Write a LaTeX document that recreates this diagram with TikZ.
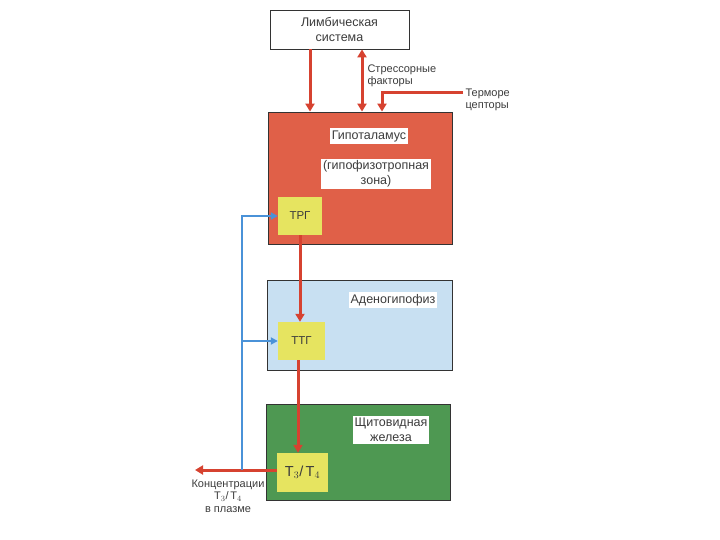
\documentclass[tikz,border=0pt]{standalone}
\usepackage{fontspec}
\setmainfont{Liberation Sans}
\definecolor{hypored}{RGB}{224,96,72}
\definecolor{adenoblue}{RGB}{200,224,242}
\definecolor{thyrogreen}{RGB}{78,152,82}
\definecolor{hormyellow}{RGB}{230,228,96}
\definecolor{arrred}{RGB}{214,66,48}
\definecolor{arrblue}{RGB}{74,146,216}
\definecolor{inkgray}{RGB}{60,60,60}
\usetikzlibrary{arrows.meta, positioning}
\tikzset{
    organ/.style={
           rectangle,
           draw=black!80, thick,
           inner sep=0pt,
           },
    hormone/.style={
           rectangle,
           fill=hormyellow,
           inner sep=0pt,
           text=inkgray,
           font=\fontsize{11.5}{13}\selectfont,
           },
    tag/.style={
           fill=white,
           inner sep=2pt,
           align=center,
           text=inkgray,
           font=\fontsize{12.5}{15}\selectfont,
           },
    note/.style={
           align=left,
           text=inkgray,
           font=\fontsize{11}{12.5}\selectfont,
           },
    redarr/.style={arrred, line width=3pt, -{Triangle[length=8pt,width=9pt]}},
    bluearr/.style={arrblue, line width=2pt, -{Triangle[length=7pt,width=7pt]}},
}
\newcommand{\THRG}{ТРГ}
\newcommand{\TSHG}{ТТГ}
\newcommand{\TTT}{Т$_3$/\,Т$_4$}

\begin{document}
\begin{tikzpicture}[x=1pt,y=-1pt]
  \useasboundingbox (0,0) rectangle (720,540);
  \node[organ, fill=white, minimum width=139pt, minimum height=39pt]      (limbic) at (339.5, 29.5) {};
  \node[organ, fill=hypored, minimum width=184pt, minimum height=132pt]   (hypo)   at (360, 178) {};
  \node[organ, fill=adenoblue, minimum width=185pt, minimum height=90pt]  (adeno)  at (359.5, 325) {};
  \node[organ, fill=thyrogreen, minimum width=184pt, minimum height=96pt] (thyro)  at (358, 452) {};
  \node[hormone, minimum width=44pt, minimum height=38pt] (trg) at (300, 216) {\THRG};
  \node[hormone, minimum width=47pt, minimum height=38pt] (ttg) at (301.5, 341) {\TSHG};
  \node[hormone, minimum width=51pt, minimum height=39pt] (t34) at (302.5, 472.5) {\fontsize{14.5}{16}\selectfont\TTT};
  % labels
  \node[tag, fill=none] (limbictxt) at (limbic) {Лимбическая\\система};
  \node[tag] (hypotxt)  at (369, 136) {Гипоталамус};
  \node[tag] (zonetxt)  at (376, 174) {(гипофизотропная\\зона)};
  \node[tag] (adenotxt) at (393, 300) {Аденогипофиз};
  \node[tag] (thyrotxt) at (391, 430) {Щитовидная\\железа};
  \node[note, anchor=west] (stress) at (364, 76) {Стрессорные\\факторы};
  \node[note, anchor=west] (thermo) at (462, 100) {Терморе\\цепторы};
  \node[note, align=center] (conc) at (228, 496) {Концентрации\\\TTT\\в плазме};
  % helper coordinates
  \coordinate (lx)  at (310, 0);
  \coordinate (sx)  at (362, 0);
  \coordinate (tx)  at (382, 93);
  \coordinate (tin) at (463, 93);
  \coordinate (dx)  at (298, 0);
  \coordinate (out) at (195, 470);
  \coordinate (fb)  at (242, 470);
  % red arrows
  \draw[redarr] (limbic.south -| lx) -- (hypo.north -| lx);
  \draw[redarr, {Triangle[length=8pt,width=9pt]}-{Triangle[length=8pt,width=9pt]}] (limbic.south -| sx) -- (hypo.north -| sx);
  \draw[redarr] (tin) -- (tx) -- (hypo.north -| tx);
  \draw[redarr] (trg.south) -- (ttg.north -| trg.south);
  \draw[redarr] (ttg.south -| dx) -- (t34.north -| dx);
  \draw[redarr] (t34.west |- out) -- (out);
  % feedback
  \draw[bluearr] (fb) -- (fb |- trg.west) -- (trg.west);
  \draw[bluearr] (fb |- ttg.west) -- (ttg.west);
\end{tikzpicture}
\end{document}
